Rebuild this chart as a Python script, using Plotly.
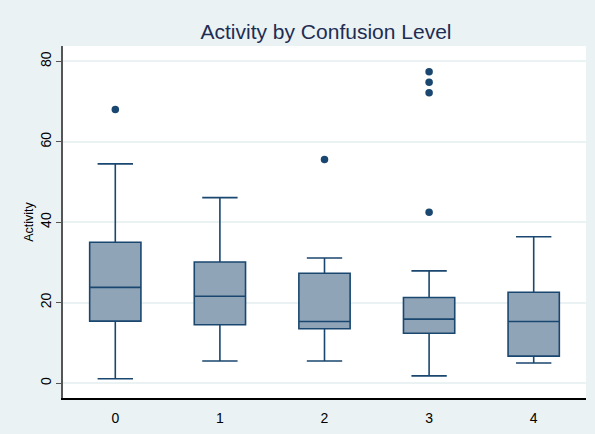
import plotly.graph_objects as go

levels = [0, 1, 2, 3, 4]
tick_labels = ["0", "1", "2", "3", "4"]
q1 = [15.4, 14.5, 13.5, 12.4, 6.7]
median = [23.8, 21.6, 15.3, 15.9, 15.3]
q3 = [35.0, 30.1, 27.3, 21.3, 22.6]
lower_whisker = [1.1, 5.5, 5.5, 1.8, 5.0]
upper_whisker = [54.5, 46.1, 31.1, 27.9, 36.4]
outlier_level = [0, 2, 3, 3, 3, 3]
outlier_value = [68.0, 55.6, 77.4, 74.8, 72.2, 42.5]

navy = "#1A476F"
bg = "#EAF2F3"

fig = go.Figure()
fig.add_trace(go.Box(
    x=levels, q1=q1, median=median, q3=q3,
    lowerfence=lower_whisker, upperfence=upper_whisker,
    width=0.49, whiskerwidth=0.69,
    fillcolor="rgb(144,164,184)",
    line=dict(color=navy, width=1.6),
    boxpoints=False, showlegend=False, hoverinfo="skip",
))
fig.add_trace(go.Scatter(
    x=outlier_level, y=outlier_value, mode="markers",
    marker=dict(color=navy, size=7.5, line=dict(width=0)),
    showlegend=False, hoverinfo="skip",
))

fig.update_layout(
    width=595, height=434,
    paper_bgcolor=bg, plot_bgcolor="white",
    margin=dict(l=63, r=9, t=46, b=36),
    font=dict(family="Liberation Sans, Arial, sans-serif", color="black"),
    title=dict(text="Activity by Confusion Level", x=326 / 595, xanchor="center",
               y=1 - 32 / 434, yanchor="middle", yref="container",
               font=dict(size=21, color="#1E2D53")),
    xaxis=dict(range=[-0.5, 4.5], tickvals=levels, ticktext=tick_labels,
               showgrid=False, zeroline=False, showline=True,
               linecolor="black", linewidth=1.5, ticks="",
               tickfont=dict(size=14), ticklabelstandoff=6),
    yaxis=dict(range=[-3.7, 83.8], tickvals=[0, 20, 40, 60, 80],
               tickangle=-90, showgrid=True, gridcolor=bg, gridwidth=1.5,
               zeroline=False, showline=True, linecolor="#555555", linewidth=1.5,
               ticks="outside", ticklen=5, tickcolor="#555555", tickwidth=1.2,
               tickfont=dict(size=14),
               title=dict(text="Activity", font=dict(size=12.5), standoff=1)),
)

fig.write_html("out.html")
